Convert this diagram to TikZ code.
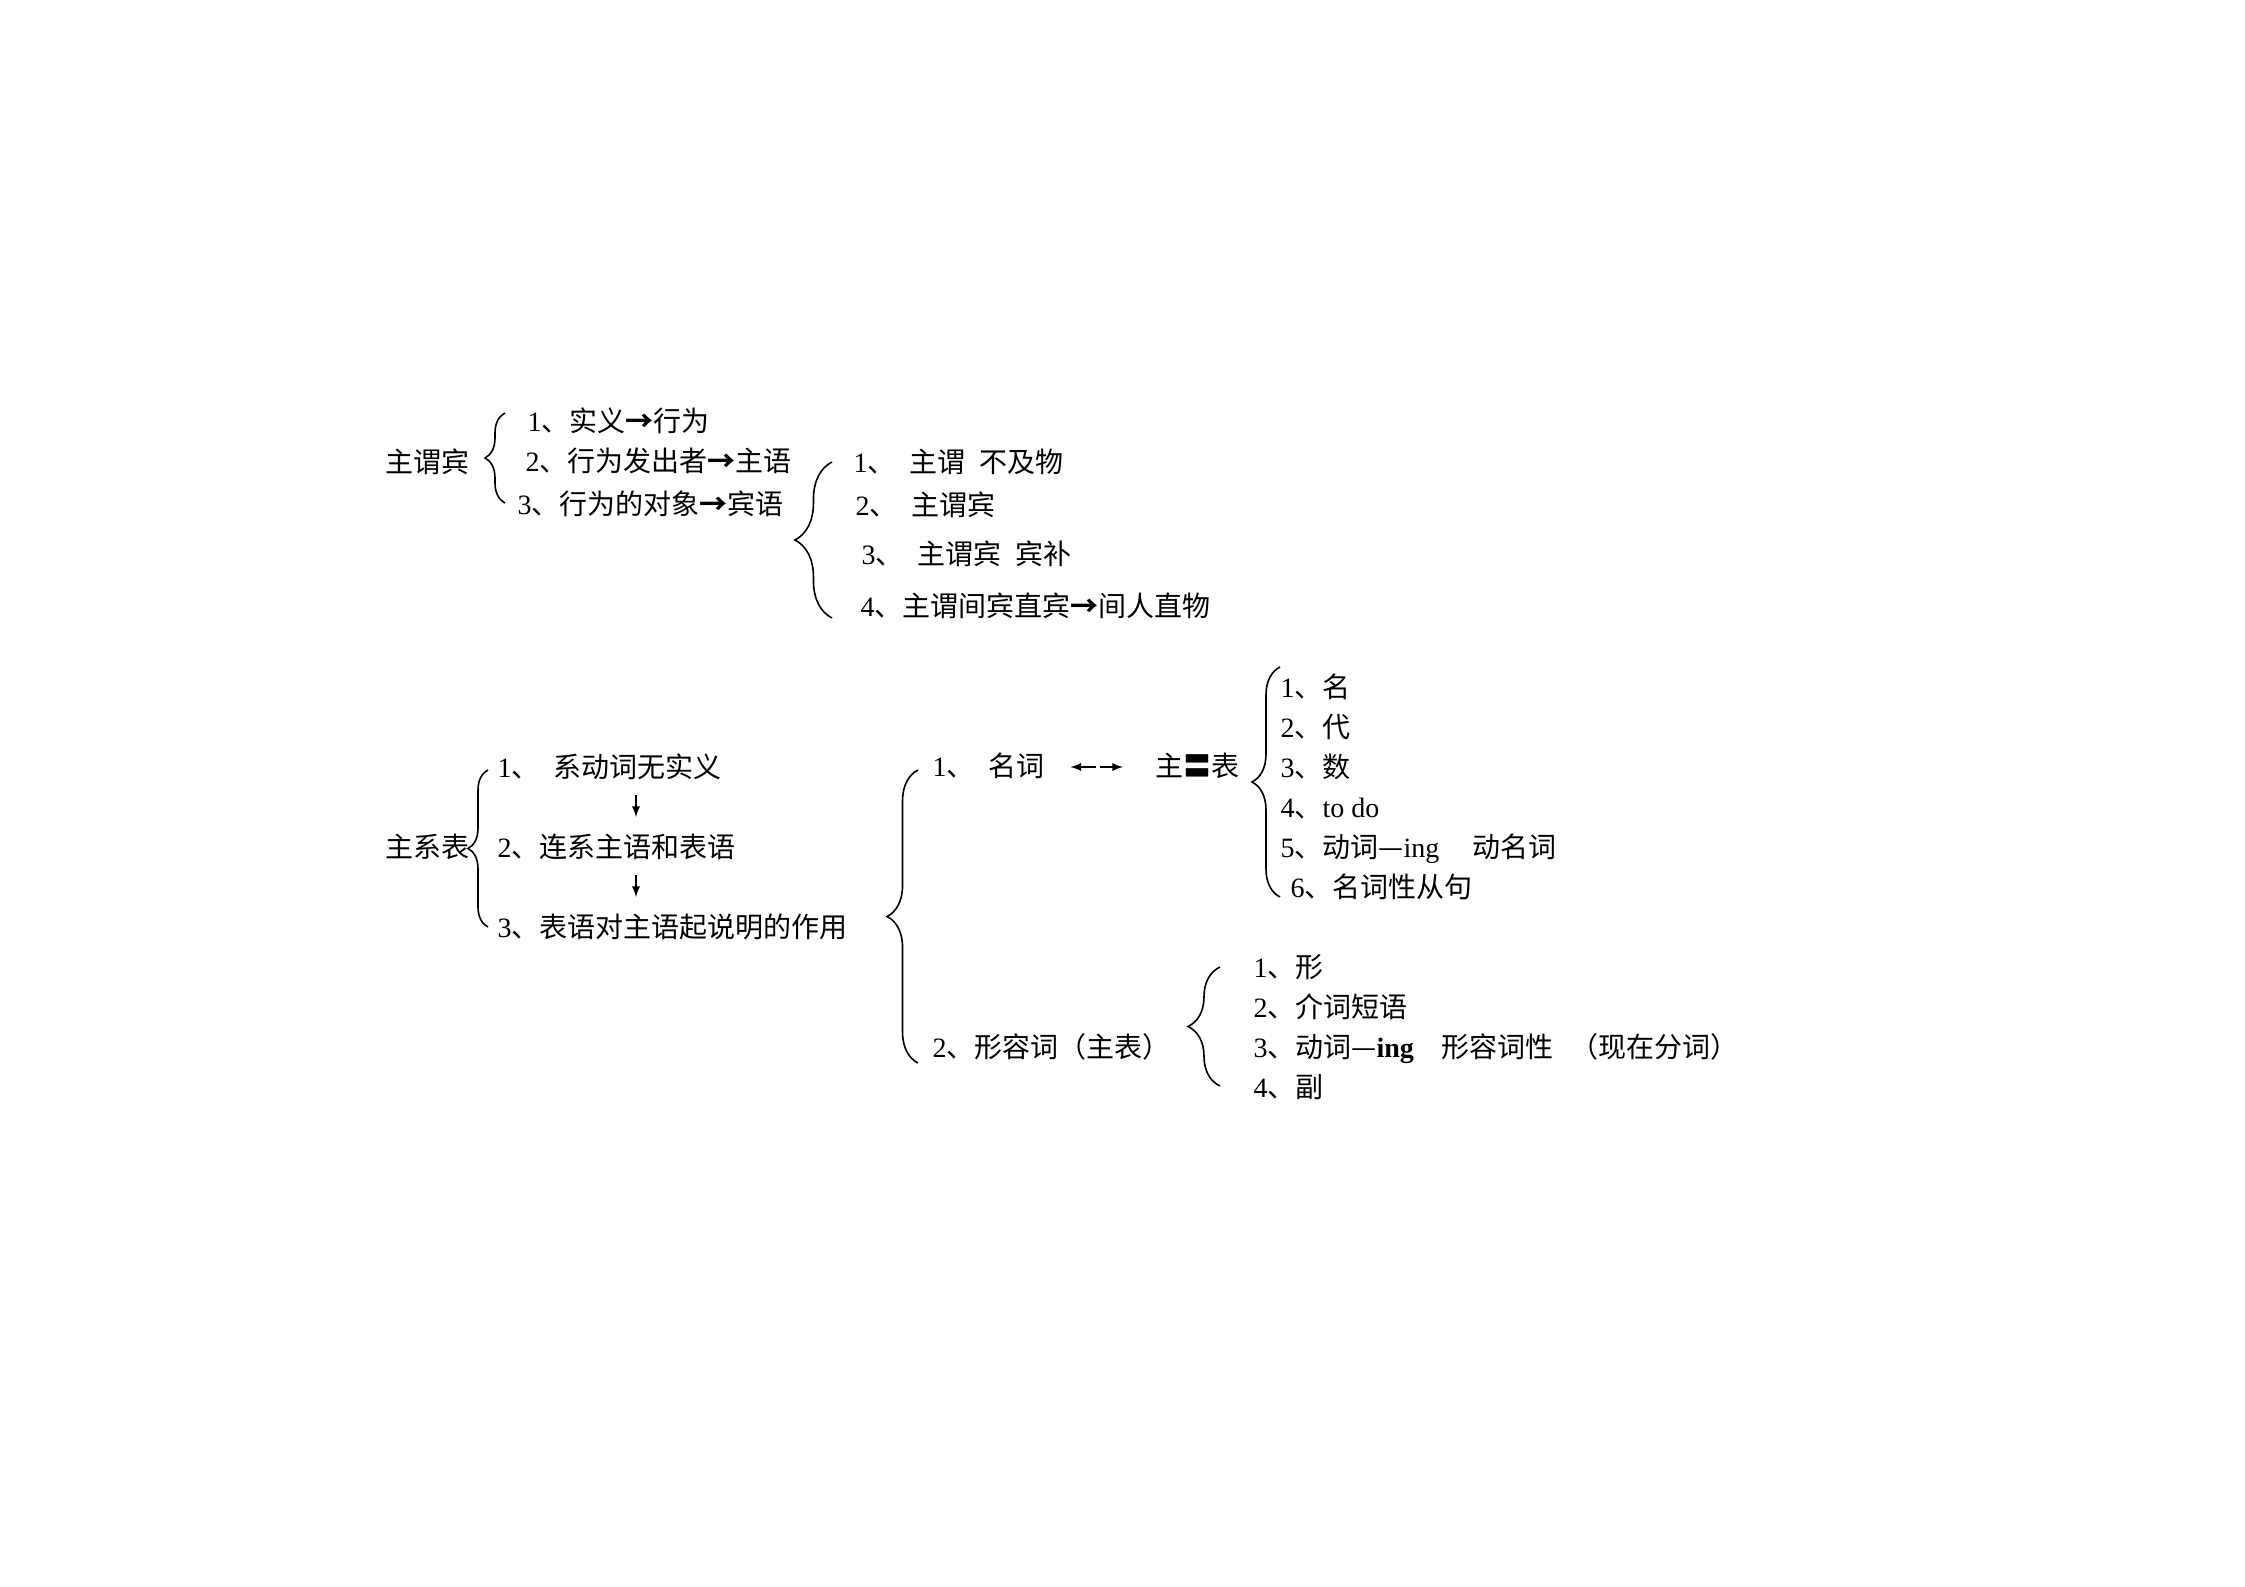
\documentclass[tikz,border=0pt]{standalone}
\usepackage{fontspec}
\setmainfont{Noto Sans CJK SC}
\newfontfamily\lat{Liberation Serif}
\newcommand\nr[1]{{\lat #1}}
\newcommand\hsp{\hspace{0.5em}}
\newcommand\ra{{\bfseries →}}
\usetikzlibrary{positioning, decorations.pathreplacing}

\begin{document}
\begin{tikzpicture}[x=0.375pt, y=-0.375pt]
\tikzset{t/.style={anchor=west, inner sep=0pt, font=\fontsize{10.5}{13}\selectfont, text height=0.85em, text depth=0.15em},
br/.style={decorate, decoration={brace, amplitude=#1}, line width=0.6pt},
f/.style={->, >=latex, line width=0.4pt}}

\useasboundingbox (0,0) rectangle (2245,1587);

% 主谓宾
\node[t] (zwb) at (385,463) {主谓宾};
\node[t] (a1) at (527,422) {\nr{1}、实义\ra 行为};
\node[t] (a2) at (525,462) {\nr{2}、行为发出者\ra 主语};
\node[t] (a3) at (517,505) {\nr{3}、行为的对象\ra 宾语};
\coordinate (at) at (505,413);
\coordinate (ab) at (505,503);
\draw[br=7.5pt] (ab) -- (at);

\node[t] (b1) at (853,463) {\nr{1}、\hsp 主谓\hsp 不及物};
\node[t] (b2) at (855,506) {\nr{2}、\hsp 主谓宾};
\node[t] (b3) at (861,555) {\nr{3}、\hsp 主谓宾\hsp 宾补};
\node[t] (b4) at (860,607) {\nr{4}、主谓间宾直宾\ra 间人直物};
\coordinate (bt) at (832,462);
\coordinate (bb) at (832,618);
\draw[br=13.9pt] (bb) -- (bt);

% 主系表
\node[t] (zxb) at (385,848) {主系表};
\node[t] (c1) at (497,768) {\nr{1}、\hsp 系动词无实义};
\node[t] (c2) at (497,848) {\nr{2}、连系主语和表语};
\node[t] (c3) at (497,928) {\nr{3}、表语对主语起说明的作用};
\coordinate (ct) at (488,770);
\coordinate (cb) at (488,927);
\draw[br=7.5pt] (cb) -- (ct);
\coordinate (cx) at (636,0);
\foreach \a/\b in {c1/c2, c2/c3} {
	\draw[f, shorten <=4.9pt, shorten >=6.4pt] (\a.south -| cx) -- (\b.north -| cx);
}

\node[t] (d1) at (932,767) {\nr{1}、\hsp 名词};
\node[t] (d2) at (1155,767) {主〓表};
\node[t] (e1) at (932,1048) {\nr{2}、形容词（主表）};
\coordinate (dm) at (1098,767);
\draw[f, shorten <=0.8pt, shorten >=9.5pt] (dm) -- (d1.east);
\draw[f, shorten <=0.8pt, shorten >=12pt] (dm) -- (d2.west);
\coordinate (dt) at (918,770);
\coordinate (db) at (918,1063);
\draw[br=11.6pt] (db) -- (dt);

% 名词
\node[t] (n1) at (1280,688) {\nr{1}、名};
\node[t, below=15pt of n1.west, anchor=west] (n2) {\nr{2}、代};
\node[t, below=15pt of n2.west, anchor=west] (n3) {\nr{3}、数};
\node[t, below=15pt of n3.west, anchor=west] (n4) {\nr{4}、\nr{to do}};
\node[t, below=15pt of n4.west, anchor=west] (n5) {\nr{5}、动词—\nr{ing}\hspace{1.2em}动名词};
\node[t, below=15pt of n5.west, anchor=west, xshift=3.75pt] (n6) {\nr{6}、名词性从句};
\coordinate (nt) at (1280,667);
\coordinate (nb) at (1280,897);
\draw[br=10.5pt] (nb) -- (nt);

% 形容词
\node[t] (j1) at (1253,968) {\nr{1}、形};
\node[t, below=15pt of j1.west, anchor=west] (j2) {\nr{2}、介词短语};
\node[t, below=15pt of j2.west, anchor=west] (j3) {\nr{3}、动词—\nr{\bfseries ing}\hspace{1em}形容词性\hspace{0.6em}（现在分词）};
\node[t, below=15pt of j3.west, anchor=west] (j4) {\nr{4}、副};
\coordinate (jt) at (1220,967);
\coordinate (jb) at (1220,1086);
\draw[br=12pt] (jb) -- (jt);

\end{tikzpicture}
\end{document}
